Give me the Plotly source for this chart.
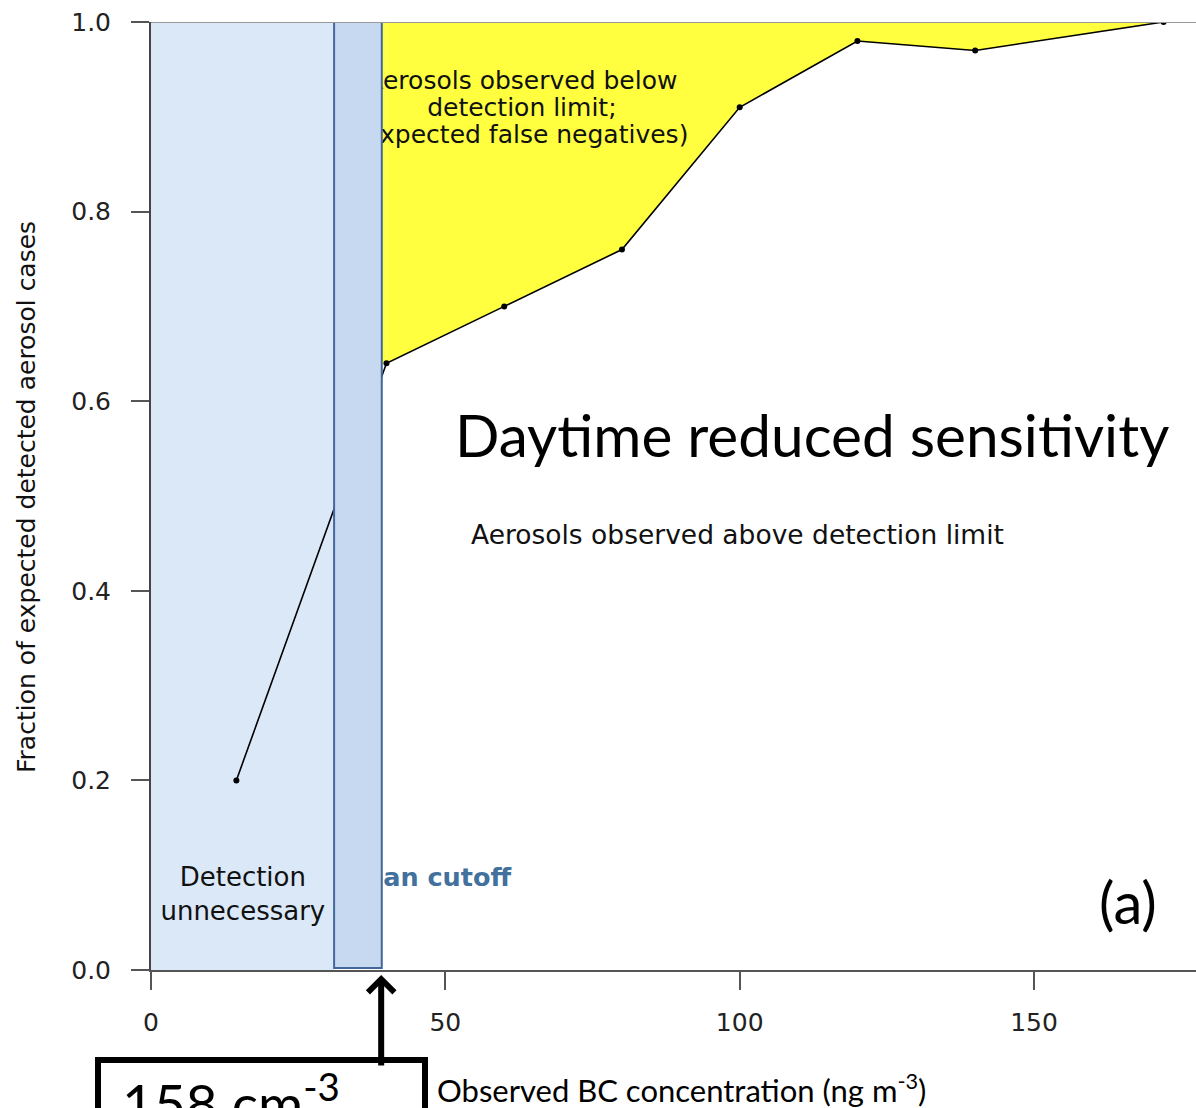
import plotly.graph_objects as go

# ---- data ----
bc_conc = [14.5, 40, 60, 80, 100, 120, 140, 172]          # ng m-3
frac_detected = [0.20, 0.64, 0.70, 0.76, 0.91, 0.98, 0.97, 1.00]
x_ticks = [0, 50, 100, 150]
x_tick_labels = ["0", "50", "100", "150"]
y_ticks = [0.0, 0.2, 0.4, 0.6, 0.8, 1.0]
y_tick_labels = ["0.0", "0.2", "0.4", "0.6", "0.8", "1.0"]
unnecessary_zone = [0, 31.1]        # x-range, "Detection unnecessary"
cutoff_band = [31.1, 39.2]          # x-range, cutoff band
cutoff_value = 39.1

W, H = 1196, 1108
ML, MR, MT, MB = 151, 0, 22, 138
PW, PH = W - ML - MR, H - MT - MB


def px_x(p):  # pixel -> paper x
    return (p - ML) / PW


def px_y(p):  # pixel -> paper y
    return (H - MB - p) / PH


R_FONT = "DejaVu Sans"
C_FONT = "Lato"
YELLOW = "#ffff40"

fig = go.Figure()

# yellow region: between curve and 1.0 (from the first point above cutoff)
fig.add_trace(go.Scatter(x=bc_conc[1:], y=[1.0] * len(bc_conc[1:]), mode="lines",
                         line=dict(width=0, color="rgba(0,0,0,0)"),
                         hoverinfo="skip", showlegend=False))
fig.add_trace(go.Scatter(x=bc_conc[1:], y=frac_detected[1:], mode="lines",
                         fill="tonexty", fillcolor=YELLOW,
                         line=dict(width=0, color="rgba(0,0,0,0)"),
                         hoverinfo="skip", showlegend=False))
# curve
fig.add_trace(go.Scatter(x=bc_conc, y=frac_detected, mode="lines+markers",
                         line=dict(color="black", width=1.6),
                         marker=dict(color="black", size=6),
                         showlegend=False))

# texts that are partly hidden behind the cutoff band
fig.add_trace(go.Scatter(
    x=[63.0, 63.0, 63.0], y=[0.9358, 0.9073, 0.8789], mode="text",
    text=["Aerosols observed below", "detection limit;", "(expected false negatives)"],
    textposition="middle center",
    textfont=dict(family=R_FONT, size=25, color="#111"),
    showlegend=False, hoverinfo="skip"))
fig.add_trace(go.Scatter(
    x=[32.2], y=[0.0955], mode="text", text=["Mean cutoff"],
    textposition="middle right",
    textfont=dict(family=R_FONT, size=25.5, color="#41719c", weight="bold"),
    showlegend=False, hoverinfo="skip"))
fig.add_trace(go.Scatter(
    x=[15.6], y=[0.0777], mode="text", text=["Detection<br>unnecessary"],
    textposition="middle center",
    textfont=dict(family=R_FONT, size=26, color="#111"),
    showlegend=False, hoverinfo="skip"))

shapes = [
    dict(type="rect", xref="x", yref="y", x0=unnecessary_zone[0], x1=unnecessary_zone[1],
         y0=0, y1=1, fillcolor="#dae8f8", line=dict(width=0), layer="below"),
    # yellow continues under the cutoff band up to its edge
    dict(type="rect", xref="x", yref="y", x0=cutoff_band[1] - 0.3, x1=bc_conc[1],
         y0=frac_detected[1], y1=1, fillcolor=YELLOW, line=dict(width=0), layer="below"),
    dict(type="rect", xref="x", yref="y", x0=cutoff_band[0], x1=cutoff_band[1],
         y0=0.002, y1=1, fillcolor="#c6d9f0", line=dict(color="#44679a", width=2),
         layer="above"),
    dict(type="line", xref="paper", yref="y", x0=0, x1=1, y0=1, y1=1,
         line=dict(color="#999", width=2), layer="above"),
    dict(type="rect", xref="paper", yref="paper", x0=px_x(98), x1=px_x(425),
         y0=px_y(1060), y1=px_y(1200), line=dict(color="black", width=6),
         fillcolor="rgba(0,0,0,0)"),
]

annotations = [
    dict(text="Aerosols observed above detection limit", xref="x", yref="y",
         x=99.6, y=0.4589, showarrow=False,
         font=dict(family=R_FONT, size=26.5, color="#111")),
    dict(text="Daytime reduced sensitivity", xref="x", yref="y", x=112.3, y=0.565,
         showarrow=False, font=dict(family=C_FONT, size=58.5, color="black")),
    dict(text="(a)", xref="x", yref="y", x=165.9, y=0.0724, showarrow=False,
         font=dict(family=C_FONT, size=58, color="black")),
    dict(text="Fraction of expected detected aerosol cases", xref="paper", yref="paper",
         x=px_x(27), y=px_y(497), xanchor="center", yanchor="middle",
         textangle=-90, showarrow=False,
         font=dict(family=R_FONT, size=25, color="#111")),
    dict(text="Observed BC concentration (ng m<sup>-3</sup>)", xref="paper", yref="paper",
         x=px_x(435), y=px_y(1088), xanchor="left", yanchor="middle", showarrow=False,
         font=dict(family=C_FONT, size=31, color="black")),
    dict(text="158 cm<sup>-3</sup>", xref="paper", yref="paper",
         x=px_x(120), y=px_y(1061), xanchor="left", yanchor="top", showarrow=False,
         font=dict(family=C_FONT, size=55, color="black")),
    dict(text="", xref="x", yref="paper", x=cutoff_value, y=px_y(975),
         showarrow=True, ax=0, ay=92, arrowhead=4, arrowwidth=6, arrowsize=0.85,
         arrowcolor="black"),
]

fig.update_layout(
    width=W, height=H, autosize=False,
    margin=dict(l=ML, r=MR, t=MT, b=MB, pad=0),
    paper_bgcolor="white", plot_bgcolor="white",
    shapes=shapes, annotations=annotations, showlegend=False,
    xaxis=dict(range=[0, PW / 5.887], tickvals=x_ticks, ticktext=x_tick_labels,
               showgrid=False, zeroline=False, showline=True, linecolor="#555",
               linewidth=2, ticks="outside", ticklen=18, tickwidth=2, tickcolor="#555",
               ticklabelstandoff=11,
               tickfont=dict(family=R_FONT, size=25, color="#222")),
    yaxis=dict(range=[0, 1], tickvals=y_ticks, ticktext=y_tick_labels,
               showgrid=False, zeroline=False, showline=True, linecolor="#444",
               linewidth=2, ticks="outside", ticklen=18, tickwidth=2, tickcolor="#555",
               ticklabelstandoff=15,
               tickfont=dict(family=R_FONT, size=25, color="#222")),
)

fig.write_html("out.html")
